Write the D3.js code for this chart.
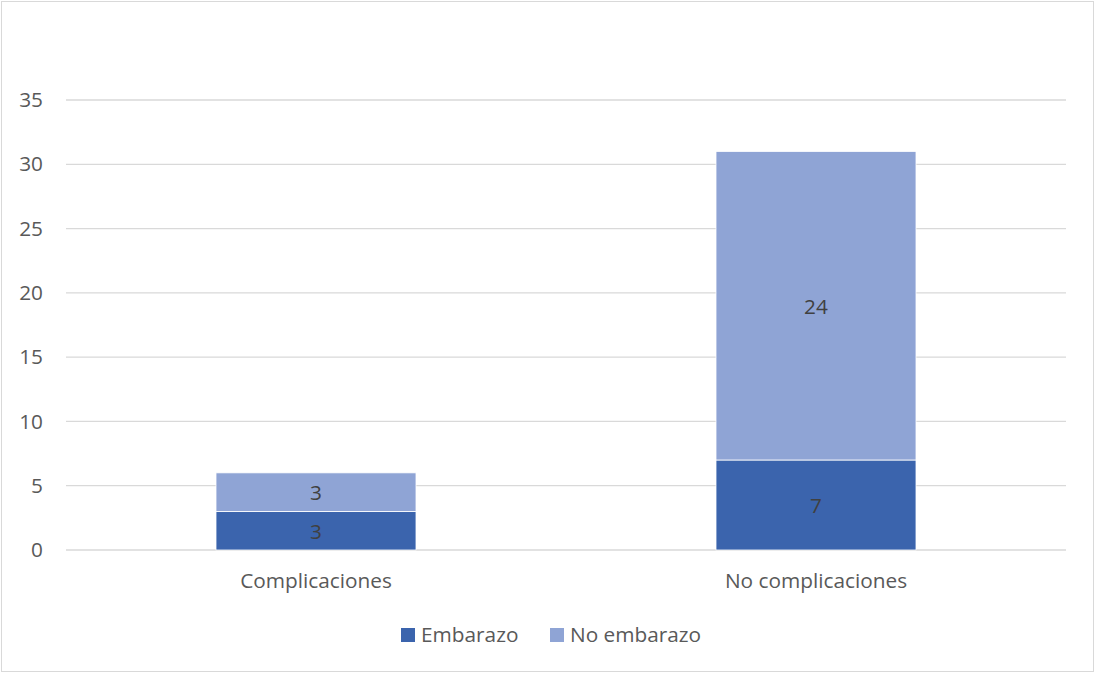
<!DOCTYPE html>
<html>
<head>
<meta charset="utf-8">
<script src="https://cdn.jsdelivr.net/npm/d3@7"></script>
<style>
  body { margin: 0; background: #fff; }
  svg text { font-family: "Open Sans", sans-serif; }
</style>
</head>
<body>
<div id="chart"></div>
<script>
// chart data
const categories = ["Complicaciones", "No complicaciones"];
const seriesNames = ["Embarazo", "No embarazo"];
const embarazo = [3, 7];
const noEmbarazo = [3, 24];
const yTicks = [0, 5, 10, 15, 20, 25, 30, 35];

const colors = ["#3B64AD", "#8FA4D5"];
const fontSize = 20.8;

const W = 1095, H = 673;
const svg = d3.select("#chart").append("svg")
  .attr("width", W)
  .attr("height", H);

// outer chart border
svg.append("rect")
  .attr("x", 1.5).attr("y", 1.5)
  .attr("width", W - 3).attr("height", H - 3)
  .attr("fill", "#fff")
  .attr("stroke", "#D9D9D9");

const x = d3.scaleBand()
  .domain(categories)
  .range([66, 1066])
  .paddingInner(0.6)
  .paddingOuter(0.3);

const y = d3.scaleLinear()
  .domain([0, 35])
  .range([550, 100]);

// gridlines
svg.append("g")
  .selectAll("line")
  .data(yTicks)
  .join("line")
  .attr("x1", 66).attr("x2", 1066)
  .attr("y1", d => y(d)).attr("y2", d => y(d))
  .attr("stroke", "#D9D9D9")
  .attr("stroke-width", 1.3);

// y axis labels
const yAxis = d3.axisLeft(y).tickValues(yTicks).tickSize(0).tickPadding(0);
svg.append("g")
  .attr("transform", "translate(43,0)")
  .call(yAxis)
  .call(g => g.select(".domain").remove())
  .selectAll("text")
  .attr("font-size", fontSize)
  .attr("fill", "#595959")
  .attr("font-family", "'Open Sans', sans-serif");

// stacked data
const rows = categories.map((c, i) => ({cat: c, Embarazo: embarazo[i], "No embarazo": noEmbarazo[i]}));
const stacked = d3.stack().keys(seriesNames)(rows);

const layers = svg.append("g")
  .selectAll("g")
  .data(stacked)
  .join("g")
  .attr("fill", (d, i) => colors[i]);

layers.selectAll("rect")
  .data(d => d)
  .join("rect")
  .attr("x", d => x(d.data.cat))
  .attr("width", x.bandwidth())
  .attr("y", d => y(d[1]))
  .attr("height", d => y(d[0]) - y(d[1]))
  .attr("stroke", "#fff")
  .attr("stroke-width", 0.8);

// data labels
layers.selectAll("text")
  .data(d => d)
  .join("text")
  .attr("x", d => x(d.data.cat) + x.bandwidth() / 2)
  .attr("y", d => (y(d[0]) + y(d[1])) / 2 + 1)
  .attr("dy", "0.35em")
  .attr("text-anchor", "middle")
  .attr("font-size", fontSize)
  .attr("fill", "#404040")
  .text(d => d[1] - d[0]);

// x axis labels
const xAxis = d3.axisBottom(x).tickSize(0).tickPadding(0);
svg.append("g")
  .attr("transform", "translate(0,573)")
  .call(xAxis)
  .call(g => g.select(".domain").remove())
  .selectAll("text")
  .attr("font-size", fontSize)
  .attr("fill", "#595959")
  .attr("font-family", "'Open Sans', sans-serif");

// legend
const legendX = [401, 550];
const legend = svg.append("g")
  .selectAll("g")
  .data(seriesNames)
  .join("g")
  .attr("transform", (d, i) => "translate(" + legendX[i] + ",628)");

legend.append("rect")
  .attr("width", 14).attr("height", 14)
  .attr("fill", (d, i) => colors[i]);

legend.append("text")
  .attr("x", 20)
  .attr("y", 7)
  .attr("dy", "0.35em")
  .attr("font-size", fontSize)
  .attr("fill", "#595959")
  .text(d => d);
</script>
</body>
</html>
